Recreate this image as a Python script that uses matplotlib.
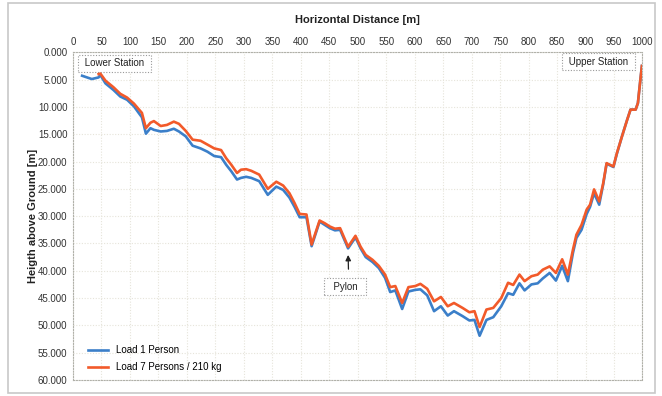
import numpy as np
import matplotlib
matplotlib.use("Agg")
import matplotlib.pyplot as plt
from matplotlib.patches import Rectangle

plt.rcParams['font.family'] = ['Liberation Sans', 'DejaVu Sans']

# cable sag profile, load of 1 person
dist_1 = [16, 33, 45, 48, 57, 71, 83, 95, 107, 116, 121, 128, 136, 142, 154, 165, 177, 186, 198, 210,
          224, 236, 248, 260, 269, 278, 288, 295, 304, 313, 327, 342, 357, 369, 380, 389, 398, 410, 419, 433,
          442, 451, 460, 469, 483, 496, 505, 514, 526, 537, 548, 557, 566, 578, 589, 601, 610, 622, 634, 646,
          658, 669, 684, 696, 705, 714, 726, 738, 752, 764, 773, 784, 793, 805, 816, 825, 837, 848, 859, 869,
          878, 884, 893, 902, 908, 915, 924, 931, 937, 943, 949, 955, 964, 973, 979, 988, 992, 995, 999]
height_1 = [4.3, 4.9, 4.6, 4.15, 5.7, 6.9, 8.1, 8.7, 9.9, 11.2, 11.9, 14.9, 13.9, 14.2, 14.5, 14.4, 14.0, 14.5, 15.4, 17.1,
            17.6, 18.2, 19.0, 19.2, 20.6, 21.8, 23.3, 23.0, 22.8, 23.0, 23.6, 26.1, 24.6, 25.2, 26.6, 28.3, 30.2, 30.2, 35.5, 31.0,
            31.6, 32.2, 32.6, 32.5, 35.9, 33.9, 35.9, 37.5, 38.4, 39.5, 41.3, 43.9, 43.6, 47.0, 43.8, 43.5, 43.4, 44.5, 47.4, 46.5,
            48.2, 47.4, 48.3, 49.1, 49.0, 51.9, 49.0, 48.5, 46.5, 44.1, 44.4, 42.3, 43.6, 42.5, 42.3, 41.4, 40.4, 41.8, 39.1, 41.9,
            36.7, 34.0, 32.5, 29.6, 28.3, 25.8, 27.9, 24.2, 20.4, 20.7, 21.0, 18.6, 15.4, 12.4, 10.5, 10.5, 9.3, 6.3, 2.5]

# cable sag profile, load of 7 persons / 210 kg
dist_7 = dist_1[2:]
height_7 = [4.0, 3.9, 5.2, 6.4, 7.6, 8.3, 9.4, 10.5, 11.1, 13.9, 12.9, 12.6, 13.5, 13.3, 12.7, 13.1, 14.4, 16.0,
            16.2, 16.9, 17.6, 17.9, 19.4, 20.6, 22.1, 21.5, 21.4, 21.7, 22.4, 25.0, 23.7, 24.4, 25.8, 27.6, 29.6, 29.7, 35.2, 30.8,
            31.3, 31.9, 32.3, 32.2, 35.6, 33.6, 35.6, 37.1, 38.0, 39.1, 40.7, 43.0, 42.8, 45.9, 43.0, 42.8, 42.4, 43.3, 45.6, 44.8,
            46.5, 45.9, 46.8, 47.6, 47.4, 50.3, 47.1, 46.8, 45.0, 42.2, 42.6, 40.7, 41.9, 41.0, 40.7, 39.8, 39.2, 40.4, 37.9, 40.7,
            36.1, 33.4, 31.6, 28.8, 27.9, 25.1, 27.3, 24.0, 20.3, 20.6, 20.9, 18.5, 15.4, 12.4, 10.5, 10.5, 9.3, 6.3, 2.5]

xticks = np.arange(0, 1001, 50)
yticks = np.arange(0, 61, 5)

fig = plt.figure(figsize=(6.62, 3.96), dpi=100)
ax = fig.add_axes([0.1103, 0.0404, 0.8602, 0.8276])

ax.plot(dist_1, height_1, color='#3b7fc9', lw=1.9, label='Load 1 Person', zorder=3)
ax.plot(dist_7, height_7, color='#f25a2a', lw=1.9, label='Load 7 Persons / 210 kg', zorder=4)

ax.set_xlim(0, 1000)
ax.set_ylim(60, 0)
ax.xaxis.tick_top()
ax.xaxis.set_label_position('top')
ax.set_xticks(xticks)
ax.set_yticks(yticks)
ax.set_yticklabels(['%.3f' % v for v in yticks])
ax.tick_params(length=0, labelsize=7, colors='#333333', pad=4)
ax.set_xlabel('Horizontal Distance [m]', fontsize=8, fontweight='bold', labelpad=10, color='#222222')
ax.set_ylabel('Heigth above Ground [m]', fontsize=8, fontweight='bold', labelpad=0, color='#222222')

ax.grid(True, color='#e6e4da', lw=0.8, ls=(0, (1, 1.5)))
ax.set_axisbelow(True)
for s in ax.spines.values():
    s.set_color('#b0b0a8')
    s.set_linestyle((0, (1, 1.5)))
    s.set_linewidth(0.8)

box = dict(boxstyle='square,pad=0.38', fc='white', ec='#999999', ls=(0, (1, 1.5)), lw=0.8)
ax.text(73, 2.0, ' Lower Station ', fontsize=7, ha='center', va='center', bbox=box, color='#222222')
ax.text(923, 1.7, ' Upper Station ', fontsize=7, ha='center', va='center', bbox=box, color='#222222')
ax.annotate('  Pylon  ', xy=(483, 36.6), xytext=(478, 42.9), fontsize=7, ha='center', va='center',
            bbox=box, color='#222222',
            arrowprops=dict(arrowstyle='-|>', color='#222222', lw=0.9, mutation_scale=8, shrinkA=6,
                            relpos=(0.6, 1.0)))

ax.legend(loc='lower left', frameon=False, fontsize=7, handlelength=2.1, borderaxespad=0.4,
          bbox_to_anchor=(0.012, 0.0), labelspacing=0.75)

fig.patches.append(Rectangle((8 / 662, 3 / 396), 647 / 662, 390 / 396, transform=fig.transFigure,
                             fill=False, ec='#c8c8c8', lw=1.2))

fig.savefig('out.png', dpi=100)
